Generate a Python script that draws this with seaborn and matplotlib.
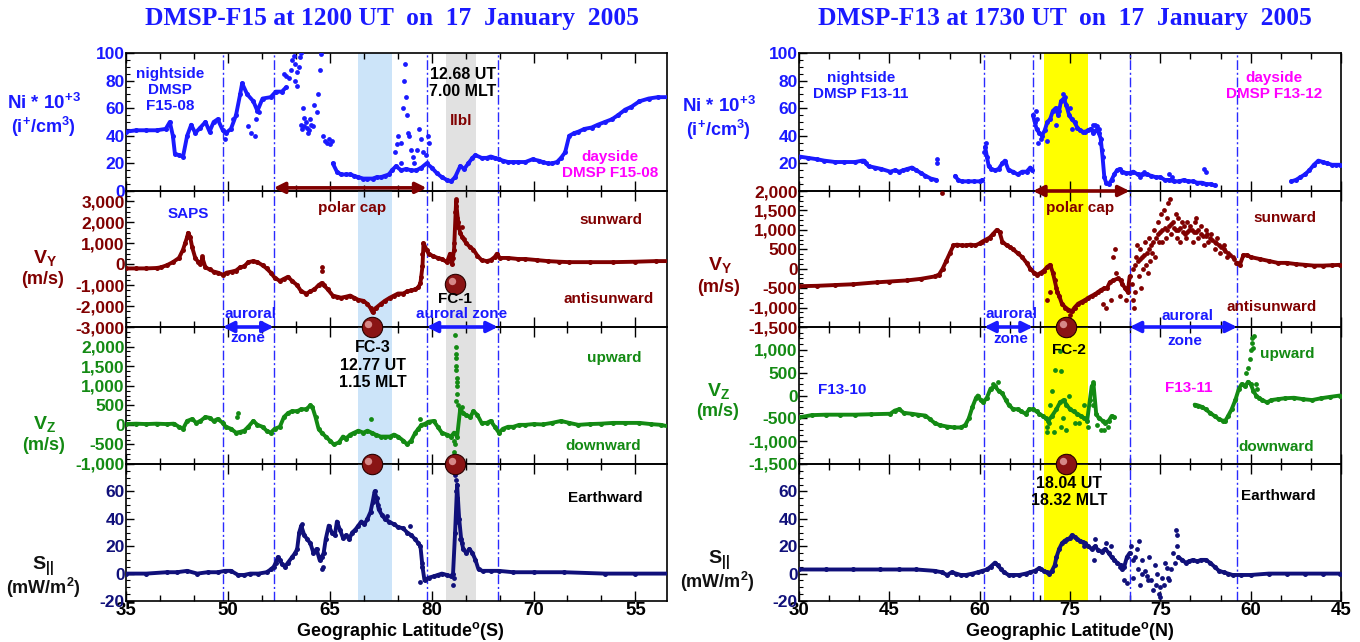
import numpy as np
import pandas as pd
import matplotlib
matplotlib.use("Agg")
import matplotlib.pyplot as plt
import matplotlib.transforms as mtransforms
from matplotlib.ticker import FuncFormatter, FixedLocator, AutoMinorLocator
import seaborn as sns

# ---------------- data ----------------
# x is the position along the satellite track in "tick units" (one unit = one labelled tick)
LEFT_XTICKLABELS = ["35", "50", "65", "80", "70", "55"]
RIGHT_XTICKLABELS = ["30", "45", "60", "75", "75", "60", "45"]

# ---- DMSP-F15 (left) ----
L_NI_A = [(0.00,43),(0.10,44),(0.20,44),(0.30,44),(0.39,45),(0.43,50),(0.46,40),(0.48,27),(0.52,26),(0.56,25),
          (0.60,40),(0.64,48),(0.68,42),(0.73,46),(0.78,50),(0.82,43),(0.86,50),(0.90,52),(0.95,44),(0.98,42),
          (1.03,45),(1.08,55),(1.12,70),(1.14,78),(1.19,70),(1.25,65),(1.29,58),(1.34,67),(1.42,68),(1.47,72),
          (1.53,72),(1.57,75)]
L_NI_B = [(2.03,20),(2.07,14),(2.11,12),(2.16,12),(2.20,12),(2.24,11),(2.28,10),(2.33,9),(2.37,9),(2.42,9),
          (2.46,10),(2.50,10),(2.54,11),(2.58,12),(2.61,15),(2.65,18),(2.70,15),(2.75,16),(2.80,15),(2.85,15),
          (2.90,17),(2.95,20),(3.00,17),(3.05,13),(3.10,10),(3.15,8),(3.19,7),(3.23,10),(3.28,18),(3.32,16),
          (3.36,20),(3.40,24),(3.43,26),(3.49,24),(3.54,24),(3.58,25),(3.62,24),(3.66,23),(3.70,22),(3.75,21),
          (3.80,21),(3.85,21),(3.92,21),(3.99,23),(4.05,22),(4.09,21),(4.14,20),(4.18,20),(4.23,21),(4.27,24),
          (4.31,28),(4.35,40),(4.40,42),(4.44,43),(4.50,45),(4.57,46),(4.63,48),(4.70,50),(4.77,52),(4.83,55),
          (4.90,59),(4.96,61),(5.04,65),(5.13,67),(5.22,68),(5.34,68)]
L_NI_DOTS = [(1.55,85),(1.57,83),(1.60,82),(1.62,88),(1.63,95),(1.65,98),(1.66,92),(1.68,86),(1.70,90),(1.71,97),
             (1.72,100),(1.66,80),(1.68,76),(1.74,60),(1.75,53),(1.72,48),(1.73,45),(1.75,47),(1.77,50),(1.78,46),
             (1.80,44),(1.82,48),(1.84,47),(1.79,42),(1.81,52),(1.85,62),(1.88,70),(1.90,88),(1.91,99),(1.87,57),
             (1.93,40),(1.95,36),(1.97,35),(1.99,38),(2.00,34),(2.02,36),(1.20,47),(1.23,42),(1.27,40),(1.28,52),
             (1.31,57),(1.05,52),(0.97,38),(2.64,28),(2.66,34),(2.67,40),(2.70,35),(2.72,60),(2.73,80),(2.74,92),
             (2.75,68),(2.76,55),(2.77,42),(2.78,40),(2.80,30),(2.82,25),(2.86,30),(2.88,45),(2.90,38),(2.92,28),
             (2.94,26),(2.96,40),(2.97,35),(2.70,20),(2.83,20)]

L_VY = [(0.00,-200),(0.10,-200),(0.20,-200),(0.30,-180),(0.34,-150),(0.40,-50),(0.46,100),(0.52,300),(0.56,700),
        (0.58,1000),(0.60,1300),(0.61,1500),(0.63,1300),(0.65,800),(0.68,300),(0.71,100),(0.73,0),(0.75,300),
        (0.78,-150),(0.82,-250),(0.86,-350),(0.90,-400),(0.95,-500),(0.99,-400),(1.04,-350),(1.08,-300),
        (1.12,-150),(1.16,-100),(1.20,100),(1.25,150),(1.29,100),(1.34,-50),(1.38,-200),(1.42,-400),(1.46,-650),
        (1.51,-800),(1.55,-700),(1.59,-600),(1.63,-800),(1.68,-1000),(1.72,-1300),(1.77,-1400),(1.81,-1300),
        (1.85,-1200),(1.89,-1000),(1.92,-900),(1.94,-1000),(1.98,-1200),(2.03,-1500),(2.07,-1550),(2.11,-1600),
        (2.16,-1550),(2.20,-1500),(2.24,-1600),(2.28,-1700),(2.33,-1750),(2.37,-1900),(2.40,-2100),(2.42,-2300),
        (2.45,-2100),(2.50,-1900),(2.54,-1750),(2.59,-1600),(2.63,-1500),(2.67,-1400),(2.72,-1400),(2.76,-1300),
        (2.80,-1250),(2.84,-1200),(2.87,-1100),(2.89,-900),(2.91,-100),(2.92,1000),(2.95,700),(2.97,500),
        (3.01,400),(3.06,300),(3.10,250),(3.15,100),(3.18,500),(3.20,0),(3.22,700),(3.24,3000),(3.26,2000),
        (3.28,1500),(3.30,1300),(3.34,1000),(3.38,800),(3.41,700),(3.45,400),(3.49,200),(3.54,150),(3.58,200),
        (3.62,350),(3.64,500),(3.67,300),(3.75,300),(3.85,250),(3.92,250),(4.03,200),(4.14,150),(4.25,120),
        (4.35,100),(4.55,100),(4.78,100),(5.00,120),(5.20,150),(5.34,150)]
L_VY_DOTS = [(1.92,-300),(1.925,-150),(0.75,400),(2.905,500),(2.90,-600),(3.23,2500),(3.235,3100),(3.24,2800),
             (3.25,2200),(3.245,1800),(3.22,1000),(3.21,300),(3.30,1800),(3.32,1200)]

L_VZ = [(0.00,20),(0.10,30),(0.20,20),(0.30,30),(0.40,20),(0.47,30),(0.52,-50),(0.56,-100),(0.60,100),(0.65,150),
        (0.69,50),(0.73,100),(0.78,200),(0.82,180),(0.86,100),(0.90,150),(0.95,50),(0.98,-50),(1.03,-100),(1.08,-200),
        (1.12,-180),(1.16,-150),(1.20,-50),(1.25,100),(1.29,0),(1.34,-50),(1.38,-150),(1.42,-200),(1.46,-100),(1.51,-50),
        (1.55,200),(1.59,300),(1.63,350),(1.68,350),(1.72,400),(1.77,400),(1.81,500),(1.83,450),(1.86,200),(1.89,-100),
        (1.92,-200),(1.96,-300),(2.00,-400),(2.04,-500),(2.09,-450),(2.13,-300),(2.16,-350),(2.20,-250),(2.24,-200),(2.28,-150),
        (2.33,-200),(2.37,-150),(2.41,-200),(2.45,-250),(2.50,-300),(2.54,-300),(2.59,-300),(2.63,-250),(2.67,-300),(2.72,-400),
        (2.76,-500),(2.80,-400),(2.84,-200),(2.87,-100),(2.90,0),(2.93,20),(2.97,80),(3.02,100),(3.06,-50),(3.10,-200),
        (3.15,-250),(3.19,-300),(3.22,-200),(3.25,-300),(3.28,400),(3.31,300),(3.34,250),(3.38,200),(3.41,350),(3.45,250),
        (3.49,50),(3.54,50),(3.58,100),(3.62,-50),(3.66,-200),(3.70,-100),(3.75,-50),(3.80,-50),(3.86,0),(3.92,0),
        (4.00,20),(4.09,10),(4.18,50),(4.27,100),(4.35,50),(4.44,0),(4.55,20),(4.66,30),(4.78,50),(4.90,50),
        (5.04,50),(5.15,20),(5.25,0),(5.34,-50)]
L_VZ_DOTS = [(3.23,2300),(3.235,2000),(3.24,1800),(3.24,1500),(3.245,1200),(3.25,1000),(3.25,800),(3.23,-500),
             (3.22,-700),(3.225,-900),(3.24,600),(3.26,500),(3.235,1700),(3.24,1400),(3.245,1100),(3.22,-400),
             (1.10,300),(1.09,200),(2.89,150),(2.40,150),(3.28,400),(3.30,450)]

L_S = [(0.00,0),(0.20,0),(0.40,1),(0.50,1),(0.60,2),(0.70,0),(0.80,1),(0.90,1),(0.97,2),(1.03,2),
       (1.10,-1),(1.16,-1),(1.22,0),(1.30,0),(1.38,1),(1.42,3),(1.45,5),(1.47,8),(1.49,12),(1.51,10),
       (1.53,7),(1.56,5),(1.59,8),(1.63,12),(1.66,15),(1.68,18),(1.70,30),(1.72,35),(1.75,28),(1.78,25),
       (1.81,22),(1.84,15),(1.87,18),(1.90,10),(1.92,12),(1.94,15),(1.96,25),(1.99,35),(2.02,30),(2.05,28),
       (2.07,38),(2.10,32),(2.13,26),(2.16,28),(2.19,25),(2.22,30),(2.25,32),(2.28,35),(2.31,38),(2.34,36),
       (2.37,40),(2.40,45),(2.42,52),(2.44,60),(2.46,55),(2.48,47),(2.51,43),(2.54,40),(2.58,38),(2.63,36),
       (2.67,34),(2.72,33),(2.76,30),(2.80,28),(2.84,25),(2.87,22),(2.89,20),(2.91,5),(2.93,-5),(2.97,-3),
       (3.02,-2),(3.06,-1),(3.10,0),(3.15,-1),(3.19,-2),(3.21,0),(3.23,30),(3.25,65),(3.27,40),(3.29,25),
       (3.31,18),(3.34,15),(3.37,18),(3.40,15),(3.43,10),(3.46,3),(3.50,2),(3.58,2),(3.66,2),(3.80,1),
       (4.00,1),(4.30,1),(4.70,0),(5.00,0),(5.34,0)]
L_S_DOTS = [(3.23,72),(3.24,68),(3.235,60),(3.245,55),(3.25,50),(3.25,45),(3.255,38),(3.22,-3),(3.21,-8),
            (2.89,-6),(2.91,8),(1.92,3),(1.93,5),(2.79,35),(1.73,36),(2.56,42),(2.47,50),(3.28,25),(3.30,22)]

# ---- DMSP-F13 (right) ----
R_NI_A = [(0.00,25),(0.10,24),(0.20,23),(0.28,22),(0.40,21),(0.50,21),(0.62,21),(0.70,22),(0.72,22),(0.74,20),
          (0.77,18),(0.84,17),(0.91,16),(1.01,14),(1.06,15),(1.11,14),(1.15,15),(1.20,16),(1.25,17),(1.30,15),
          (1.35,13),(1.40,11),(1.46,9),(1.52,8)]
R_NI_B = [(1.73,11),(1.76,8),(1.80,7),(1.87,7),(1.94,7),(2.00,7),(2.03,8)]
R_NI_C = [(2.06,32),(2.08,25),(2.10,18),(2.13,16),(2.17,15),(2.21,16),(2.25,20),(2.28,22),(2.32,15),(2.37,14),
          (2.42,12),(2.47,14),(2.52,14),(2.56,17),(2.58,15)]
R_NI_D = [(2.59,55),(2.61,50),(2.63,45),(2.66,42),(2.69,40),(2.72,44),(2.75,50),(2.78,52),(2.81,58),(2.84,60),
          (2.87,55),(2.90,65),(2.93,67),(2.96,62),(2.99,55),(3.02,52),(3.05,50),(3.08,46),(3.11,44),(3.14,43),
          (3.17,43),(3.20,44),(3.23,45),(3.26,42),(3.29,44),(3.32,42),(3.34,38),(3.36,25),(3.38,10),(3.40,6),
          (3.43,5),(3.46,8),(3.49,12),(3.52,15),(3.55,16),(3.58,14),(3.62,13),(3.66,13),(3.70,14),(3.75,12),
          (3.80,12),(3.85,12),(3.90,11),(3.95,10),(4.00,10),(4.05,8),(4.10,8),(4.15,7),(4.21,7),(4.26,8),
          (4.31,7),(4.36,7),(4.41,6),(4.46,6),(4.51,5),(4.56,5),(4.60,4)]
R_NI_E = [(5.45,7),(5.50,8),(5.55,10),(5.60,12),(5.65,15),(5.70,19),(5.75,22),(5.80,21),(5.85,20),(5.90,19),
          (5.95,19),(5.99,19)]
R_NI_DOTS = [(1.53,23),(1.53,20),(2.07,35),(2.05,28),(2.62,58),(2.64,52),(2.65,35),(2.68,38),(2.74,36),(2.85,48),
             (2.88,58),(2.92,70),(2.94,68),(3.00,60),(3.02,45),(3.26,48),(3.28,48),(3.30,47),(3.32,45),(3.35,30),
             (3.33,35),(4.10,12),(4.13,10),(4.48,16),(4.50,14),(3.78,10),(3.82,14)]

R_VY_A = [(0.00,-450),(0.20,-440),(0.40,-420),(0.60,-400),(0.86,-350),(1.00,-330),(1.20,-300),(1.35,-260),(1.50,-200),
          (1.55,-150),(1.59,0),(1.63,200),(1.67,400),(1.71,600),(1.75,620),(1.80,600),(1.85,600),(1.90,620),(1.95,600),
          (2.00,650),(2.03,700),(2.07,750),(2.11,800),(2.15,900),(2.19,1000),(2.22,950),(2.25,700),(2.30,600),(2.34,550),
          (2.37,500),(2.42,400),(2.47,300),(2.52,150),(2.56,0),(2.60,-100),(2.64,-150),(2.68,-100),(2.71,-50),(2.75,50),
          (2.78,100),(2.81,-100),(2.83,-300),(2.86,-600),(2.88,-700),(2.91,-900),(2.95,-1000),(2.98,-1050),(3.02,-1100),
          (3.05,-1000),(3.09,-900),(3.13,-850),(3.17,-800),(3.20,-750),(3.24,-700),(3.28,-650),(3.31,-600),(3.34,-550),
          (3.38,-500),(3.41,-500),(3.44,-350),(3.48,-300),(3.53,-250),(3.56,-300),(3.58,-400),(3.61,-500),(3.64,-600),
          (3.66,-200)]
R_VY_B = [(4.85,150),(4.88,100),(4.92,350),(4.96,350),(5.00,300),(5.10,250),(5.20,200),(5.30,150),(5.40,150),
          (5.50,120),(5.60,100),(5.70,80),(5.80,80),(5.90,90),(5.99,100)]
R_VY_DOTS = [(3.70,0),(3.75,200),(3.80,300),(3.85,400),(3.90,600),(3.95,800),(4.00,950),(4.05,1050),(4.10,1100),
             (4.15,1050),(4.20,1000),(4.25,950),(4.30,950),(4.35,1000),(4.40,950),(4.45,900),(4.50,850),(4.55,800),
             (4.60,700),(4.65,600),(4.70,500),(4.75,400),(4.80,300),
             (3.72,100),(3.77,250),(3.82,350),(3.87,500),(3.92,700),(3.97,900),(4.02,1000),(4.07,1000),(4.12,1150),
             (4.17,1000),(4.22,1050),(4.27,900),(4.32,1000),(4.37,950),(4.42,1000),(4.47,850),(4.52,900),(4.57,750),
             (4.62,650),(4.67,550),(4.72,450),(4.77,350),(4.82,250),(4.84,150),
             (3.69,-400),(3.70,-800),(3.71,-1000),(3.72,-600),(3.73,300),(3.74,600),(3.76,-200),(3.78,500),(3.79,-500),
             (3.81,0),(3.83,700),(3.84,100),(3.86,-100),(3.88,800),(3.89,200),(3.91,400),(3.93,1000),(3.94,300),
             (3.97,1200),(3.98,700),(4.01,1400),(4.02,700),(4.04,1500),(4.06,800),(4.07,1300),(4.09,1700),(4.11,1800),
             (4.12,900),(4.14,1200),(4.17,1400),(4.18,800),(4.20,1300),(4.22,700),(4.24,1200),(4.26,1100),(4.28,800),
             (4.30,1200),(4.33,1100),(4.36,700),(4.38,1200),(4.40,1300),(4.42,800),(4.45,1100),(4.48,600),(4.50,1000),
             (4.53,700),(4.56,900),(4.60,500),(4.63,800),(4.66,400),(4.70,600),(4.74,300),
             (2.85,-500),(2.78,-600),(3.50,500),(3.48,300),(3.51,-100),(3.45,-800),(3.40,-1000),(3.36,-900),(1.58,1950),
             (2.74,-800),(3.00,-1200),(3.55,-700),(3.62,-800)]

R_VZ_A = [(0.00,-480),(0.14,-430),(0.30,-420),(0.45,-420),(0.62,-420),(0.80,-410),(1.01,-400),(1.06,-330),(1.11,-300),
          (1.16,-380),(1.25,-400),(1.32,-420),(1.40,-440),(1.45,-520),(1.50,-600),(1.56,-650),(1.64,-680),(1.72,-700),
          (1.79,-700),(1.84,-650),(1.88,-500),(1.92,-250),(1.96,-50),(1.98,0),(2.01,-100),(2.04,-150),(2.08,-50),
          (2.12,150),(2.17,200),(2.21,100),(2.25,50),(2.29,-100),(2.32,-200),(2.37,-300),(2.42,-300),(2.46,-350),
          (2.51,-400),(2.55,-300),(2.59,-300),(2.63,-350),(2.66,-400),(2.70,-450),(2.73,-500),(2.76,-550),(2.80,-450),
          (2.85,-300),(2.89,-150),(2.93,-100),(2.96,-200),(3.00,-300),(3.04,-350),(3.08,-400),(3.12,-450),(3.16,-500),
          (3.19,-550),(3.22,-100),(3.24,200),(3.26,250),(3.29,-400),(3.32,-500),(3.36,-550),(3.39,-600),(3.43,-550),
          (3.46,-450),(3.49,-480)]
R_VZ_B = [(4.38,-200),(4.42,-220),(4.46,-250),(4.50,-300),(4.55,-380),(4.60,-450),(4.65,-520),(4.69,-550),(4.72,-550),
          (4.75,-450),(4.79,-300),(4.83,-100),(4.87,150),(4.90,250),(4.94,200),(4.97,300),(5.00,250),(5.03,100),
          (5.06,0),(5.09,-50),(5.13,-100),(5.18,-150),(5.23,-100),(5.30,-80),(5.38,-60),(5.48,-50),(5.58,-80),
          (5.68,-100),(5.78,-60),(5.88,-30),(5.99,0)]
R_VZ_DOTS = [(4.97,600),(4.99,800),(5.00,1000),(5.01,1150),(5.02,1250),(5.04,1300),(5.03,1050),(4.95,500),(5.06,250),
             (5.07,150),(2.89,970),(2.90,530),(2.83,550),(2.80,100),(2.78,-200),(2.75,-700),(2.74,-800),(2.77,-600),
             (2.90,-700),(2.96,-750),(3.05,-600),(3.20,-700),(3.25,300),(3.26,-200),(3.38,-750),(3.42,-700),(2.82,-800),
             (3.10,-600),(3.15,-200),(2.92,-500),(2.99,0),(3.30,-650),(3.34,-750),(2.20,300),(2.15,250)]

R_S_A = [(0.00,3),(0.30,3),(0.60,3),(0.90,3),(1.11,3),(1.30,3),(1.50,2),(1.58,1),(1.64,-1),(1.69,1),
         (1.74,0),(1.79,-1),(1.85,-1),(1.92,0),(1.98,1),(2.03,2),(2.08,3),(2.12,5),(2.17,8),(2.20,6),
         (2.24,3),(2.27,1),(2.32,-1),(2.37,-1),(2.44,-1),(2.51,0),(2.56,1),(2.61,2),(2.66,4),(2.68,3),
         (2.71,2),(2.74,1),(2.77,0),(2.80,2),(2.83,6),(2.85,12),(2.88,18),(2.91,22),(2.94,24),(2.97,25),
         (3.00,26),(3.02,28),(3.05,27),(3.08,25),(3.11,24),(3.14,23),(3.17,22),(3.20,20),(3.24,18),(3.28,20),
         (3.31,17),(3.35,16),(3.39,18),(3.43,15),(3.46,12),(3.49,10),(3.52,8),(3.56,6),(3.58,3),(3.60,5),
         (3.63,12),(3.66,15)]
R_S_B = [(4.20,12),(4.24,10),(4.28,8),(4.32,9),(4.36,10),(4.41,9),(4.45,10),(4.50,10),(4.55,8),(4.60,5),
         (4.65,2),(4.70,1),(4.75,0),(4.80,-1),(4.89,-1),(5.00,-1),(5.20,0),(5.40,0),(5.60,0),(5.80,0),(5.99,0)]
R_S_DOTS = [(3.70,10),(3.75,3),(3.80,0),(3.85,-2),(3.90,-5),(3.95,-8),(4.00,-10),(4.04,-8),(4.08,-3),(4.12,3),
            (4.16,8),(3.68,20),(3.70,-3),(3.72,12),(3.74,18),(3.76,24),(3.78,-8),(3.80,10),(3.83,2),(3.86,-5),
            (3.88,12),(3.92,-12),(3.94,6),(3.96,0),(3.98,-15),(4.00,-17),(4.02,-3),(4.05,8),(4.07,4),(4.10,-5),
            (4.14,15),(4.17,32),(4.18,28),(4.19,20),(3.63,-7),(3.60,-5),(3.27,10),(3.28,25),(3.40,22),(3.45,20),
            (3.55,5),(3.15,20)]

# region boundaries / markers (track units)
L_VLINES = [0.95, 1.45, 2.95, 3.65]
R_VLINES = [2.05, 2.59, 3.66, 4.85]
L_SPANS = [(2.28, 2.61, "#cce4f9"), (3.14, 3.44, "#e1e1e1")]
R_SPANS = [(2.71, 3.20, "#ffff00")]

# ---------------- style ----------------
sns.set_theme(style="white")
plt.rcParams["font.family"] = ["Liberation Sans", "DejaVu Sans"]
plt.rcParams["font.weight"] = "bold"
plt.rcParams["mathtext.fontset"] = "custom"
plt.rcParams["mathtext.rm"] = "Liberation Sans:bold"
plt.rcParams["mathtext.bf"] = "Liberation Sans:bold"
plt.rcParams["mathtext.it"] = "Liberation Sans:bold"
plt.rcParams["mathtext.default"] = "bf"
plt.rcParams["axes.linewidth"] = 1.2

BLUE = "#1a1aff"
DRED = "#800000"
GREEN = "#138a13"
NAVY = "#10107a"
MAG = "#ff00ff"
VLINE = "#2a2aff"
BLK = "#111111"

W, H = 1360, 642
fig = plt.figure(figsize=(W / 100, H / 100), dpi=100)
ROWS = [53, 191, 327, 464, 601]


def add_ax(x0, x1, y0, y1):
    a = fig.add_axes([x0 / W, 1 - y1 / H, (x1 - x0) / W, (y1 - y0) / H])
    a.set_facecolor("none")
    return a


def trace(ax, segments, color):
    rows = []
    for k, seg in enumerate(segments):
        for x, y in seg:
            rows.append((x, y, k))
    df = pd.DataFrame(rows, columns=["x", "y", "seg"])
    sns.lineplot(data=df, x="x", y="y", units="seg", estimator=None, sort=False,
                 color=color, linewidth=2.8, marker="o", markersize=3.6,
                 markeredgewidth=0, ax=ax, legend=False, zorder=3)


def dots(ax, pts, color):
    df = pd.DataFrame(pts, columns=["x", "y"])
    sns.scatterplot(data=df, x="x", y="y", color=color, s=12, linewidth=0,
                    ax=ax, legend=False, zorder=3)


fmt = FuncFormatter(lambda v, p: f"{int(round(v)):,}")


def build(side):
    if side == "L":
        x0, x1 = 126, 667
        xmax = 5.31
        xlabels = LEFT_XTICKLABELS
        vlines, spans = L_VLINES, L_SPANS
        yspec = [(0, 100, [0, 20, 40, 60, 80, 100], BLUE),
                 (-3000, 3500, list(range(-3000, 3001, 1000)), DRED),
                 (-1000, 2500, list(range(-1000, 2001, 500)), GREEN),
                 (-20, 80, [-20, 0, 20, 40, 60], NAVY)]
        series = [([L_NI_A, L_NI_B], L_NI_DOTS, BLUE),
                  ([L_VY], L_VY_DOTS, DRED),
                  ([L_VZ], L_VZ_DOTS, GREEN),
                  ([L_S], L_S_DOTS, NAVY)]
    else:
        x0, x1 = 799, 1341
        xmax = 6.0
        xlabels = RIGHT_XTICKLABELS
        vlines, spans = R_VLINES, R_SPANS
        yspec = [(0, 100, [20, 40, 60, 80, 100], BLUE),
                 (-1500, 2000, list(range(-1500, 2001, 500)), DRED),
                 (-1500, 1500, list(range(-1500, 1001, 500)), GREEN),
                 (-20, 80, [-20, 0, 20, 40, 60], NAVY)]
        series = [([R_NI_A, R_NI_B, R_NI_C, R_NI_D, R_NI_E], R_NI_DOTS, BLUE),
                  ([R_VY_A, R_VY_B], R_VY_DOTS, DRED),
                  ([R_VZ_A, R_VZ_B], R_VZ_DOTS, GREEN),
                  ([R_S_A, R_S_B], R_S_DOTS, NAVY)]
    axes = []
    for i in range(4):
        ax = add_ax(x0, x1, ROWS[i], ROWS[i + 1])
        for a, b, c in spans:
            ax.axvspan(a, b, color=c, lw=0, zorder=0)
        for v in vlines:
            ax.axvline(v, color=VLINE, lw=1.0, ls=(0, (7, 2, 1.5, 2)), zorder=1)
        segs, pts, col = series[i]
        trace(ax, segs, col)
        dots(ax, pts, col)
        lo, hi, ticks, tcol = yspec[i]
        ax.set_xlim(0, xmax)
        ax.set_ylim(lo, hi)
        ax.set_xlabel("")
        ax.set_ylabel("")
        ax.yaxis.set_major_locator(FixedLocator(ticks))
        ax.yaxis.set_minor_locator(AutoMinorLocator(4))
        ax.yaxis.set_major_formatter(fmt)
        ax.tick_params(axis="y", which="major", direction="in", length=6, width=1,
                       color="black", labelsize=12.5, labelcolor=tcol, pad=1, left=True)
        ax.tick_params(axis="y", which="minor", direction="in", length=3, width=0.8,
                       color="black", left=True)
        ax.set_xticks(range(len(xlabels)))
        ax.set_xticks(np.arange(0, xmax + 1e-6, 1 / 3), minor=True)
        ax.tick_params(axis="x", which="major", direction="in", length=7, width=1,
                       top=True, bottom=True, color="black", pad=0.5)
        ax.tick_params(axis="x", which="minor", direction="in", length=4, width=1,
                       top=True, bottom=True, color="black")
        if i == 3:
            ax.set_xticklabels(xlabels, fontsize=13.5, fontweight="bold", color="black")
        else:
            ax.set_xticklabels([])
        for lab in ax.get_yticklabels():
            lab.set_fontweight("bold")
        for sp in ax.spines.values():
            sp.set_color("black")
            sp.set_linewidth(1.2)
            sp.set_visible(True)
        axes.append(ax)
    return axes


LA = build("L")
RA = build("R")


def sphere(ax, x, y):
    ax.scatter([x], [y], s=215, color="#8a1414", edgecolor="#2a0000", linewidth=0.8,
               zorder=10, clip_on=False)
    off = mtransforms.offset_copy(ax.transData, fig=fig, x=-2.2, y=2.4, units="points")
    ax.scatter([x], [y], s=28, color="#f0b0b0", alpha=0.75, linewidth=0,
               transform=off, zorder=11, clip_on=False)


def darrow(ax, xa, xb, y, color):
    ax.annotate("", xy=(xb, y), xytext=(xa, y), annotation_clip=False,
                arrowprops=dict(arrowstyle="<|-|>", color=color, lw=2.6,
                                mutation_scale=16, shrinkA=0, shrinkB=0), zorder=9)


# left markers and arrows
darrow(LA[1], 1.45, 2.95, 3650, DRED)
darrow(LA[2], 0.95, 1.45, 2500, BLUE)
darrow(LA[2], 2.95, 3.65, 2500, BLUE)
sphere(LA[2], 2.41, 2500)
sphere(LA[3], 2.41, 80)
sphere(LA[1], 3.23, -950)
sphere(LA[3], 3.23, 80)
# right markers and arrows
darrow(RA[1], 2.59, 3.66, 2000, DRED)
darrow(RA[2], 2.05, 2.59, 1500, BLUE)
darrow(RA[2], 3.66, 4.85, 1500, BLUE)
sphere(RA[2], 2.96, 1500)
sphere(RA[3], 2.96, 80)


def ftxt(px, py, s, color, size=10.5, **kw):
    fig.text(px / W, 1 - py / H, s, color=color, fontsize=size, fontweight="bold",
             ha="center", va="center", **kw)


# titles
for cx, t in [(392, "DMSP-F15 at 1200 UT  on  17  January  2005"),
              (1065, "DMSP-F13 at 1730 UT  on  17  January  2005")]:
    fig.text(cx / W, 1 - 18 / H, t, color=BLUE, fontsize=18.4, fontweight="bold",
             family=["Liberation Serif", "DejaVu Serif"], ha="center", va="center")

# y labels (left panel)
ftxt(44, 103, "Ni * 10$^{+3}$", BLUE, 13.5)
ftxt(43, 127, "(i$^{+}$/cm$^{3}$)", BLUE, 13)
ftxt(45, 258, "V$_{Y}$", DRED, 14)
ftxt(43, 279, "(m/s)", DRED, 13)
ftxt(45, 424, "V$_{Z}$", GREEN, 14)
ftxt(44, 445, "(m/s)", GREEN, 13)
ftxt(43, 566, "S$_{||}$", BLK, 14)
ftxt(43, 588, "(mW/m$^{2}$)", BLK, 13)
# y labels (right panel)
ftxt(719, 106, "Ni * 10$^{+3}$", BLUE, 13.5)
ftxt(718, 130, "(i$^{+}$/cm$^{3}$)", BLUE, 13)
ftxt(720, 265, "V$_{Y}$", DRED, 14)
ftxt(719, 287, "(m/s)", DRED, 13)
ftxt(719, 391, "V$_{Z}$", GREEN, 14)
ftxt(718, 412, "(m/s)", GREEN, 13)
ftxt(719, 560, "S$_{||}$", BLK, 14)
ftxt(717, 582, "(mW/m$^{2}$)", BLK, 13)

# left annotations
ftxt(170, 90, "nightside\nDMSP\nF15-08", BLUE, 11)
ftxt(463, 83, "12.68 UT\n7.00 MLT", "black", 11.5)
ftxt(461, 121, "llbl", DRED, 11)
ftxt(610, 165, "dayside\nDMSP F15-08", MAG, 11)
ftxt(188, 214, "SAPS", BLUE, 11)
ftxt(352, 208, "polar cap", DRED, 11)
ftxt(611, 220, "sunward", DRED, 11)
ftxt(609, 299, "antisunward", DRED, 11)
ftxt(455, 299, "FC-1", "black", 11)
ftxt(250, 314, "auroral", BLUE, 11)
ftxt(248, 338, "zone", BLUE, 11)
ftxt(462, 314, "auroral zone", BLUE, 11)
ftxt(373, 365, "FC-3\n12.77 UT\n1.15 MLT", "black", 11.5)
ftxt(614, 358, "upward", GREEN, 11)
ftxt(603, 446, "downward", GREEN, 11)
ftxt(605, 498, "Earthward", "black", 11)
ftxt(400, 631, "Geographic Latitude$^{o}$(S)", "black", 13)

# right annotations
ftxt(861, 86, "nightside\nDMSP F13-11", BLUE, 11)
ftxt(1274, 86, "dayside\nDMSP F13-12", MAG, 11)
ftxt(1080, 208, "polar cap", DRED, 11)
ftxt(1285, 218, "sunward", DRED, 11)
ftxt(1272, 307, "antisunward", DRED, 11)
ftxt(1011, 314, "auroral", BLUE, 11)
ftxt(1011, 339, "zone", BLUE, 11)
ftxt(1187, 316, "auroral", BLUE, 11)
ftxt(1185, 341, "zone", BLUE, 11)
ftxt(1069, 350, "FC-2", "black", 11)
ftxt(842, 390, "F13-10", BLUE, 11)
ftxt(1189, 388, "F13-11", MAG, 11)
ftxt(1287, 354, "upward", GREEN, 11)
ftxt(1276, 447, "downward", GREEN, 11)
ftxt(1069, 492, "18.04 UT\n18.32 MLT", "black", 11.5)
ftxt(1278, 496, "Earthward", "black", 11)
ftxt(1070, 631, "Geographic Latitude$^{o}$(N)", "black", 13)

fig.savefig("out.png", dpi=100, facecolor="white")
